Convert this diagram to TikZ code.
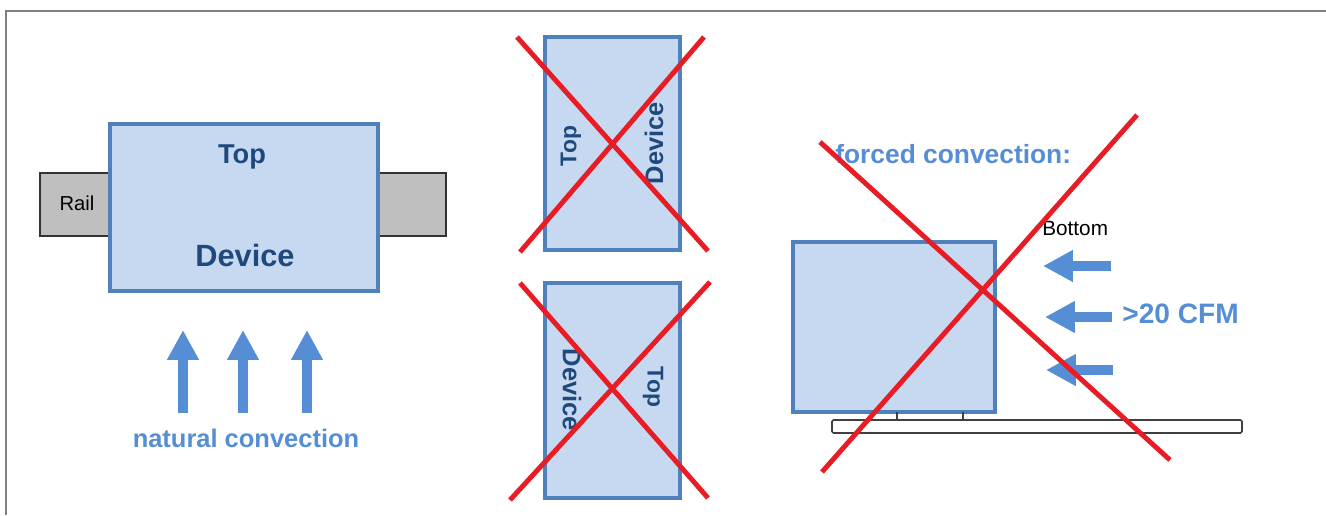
\documentclass[tikz,border=0pt]{standalone}
\usepackage{fontspec}
\setmainfont{Liberation Sans}
\usetikzlibrary{arrows.meta,fit}
\definecolor{devfill}{RGB}{198,217,241}
\definecolor{devline}{RGB}{79,129,189}
\definecolor{darktext}{RGB}{31,73,125}
\definecolor{arrowblue}{RGB}{85,142,213}
\definecolor{railgray}{RGB}{191,191,191}
\definecolor{framegray}{RGB}{128,128,128}
\definecolor{crossred}{RGB}{232,28,36}
\tikzset{
  devbox/.style={draw=devline,fill=devfill,line width=2.3pt,inner sep=0pt},
  smallbox/.style={draw=devline,fill=devfill,line width=1.8pt,inner sep=0pt},
  railbox/.style={draw=black!80,fill=railgray,line width=0.9pt,inner sep=0pt},
  platebox/.style={draw=black!75,fill=white,line width=0.9pt,inner sep=0pt,rounded corners=0.8pt},
  cross/.style={draw=crossred,line width=2.8pt},
  flow/.style={draw=arrowblue,line width=5.8pt,-{Triangle[width=17pt,length=17pt]}},
  devtxt/.style={text=darktext,font=\bfseries\fontsize{#1}{#1}\selectfont,inner sep=0pt},
  bluetxt/.style={text=arrowblue,font=\bfseries\fontsize{#1}{#1}\selectfont,inner sep=0pt},
  plaintxt/.style={text=black,font=\fontsize{#1}{#1}\selectfont,inner sep=0pt}
}
\begin{document}
\begin{tikzpicture}[x=0.02cm,y=-0.02cm]
\useasboundingbox (0,0) rectangle (1326,515);
% frame
\draw[framegray,line width=1.2pt] (6,515) -- (6,11) -- (1326,11);

% ---------- left: correct mounting ----------
\node[railbox,fit={(40,173) (446,236)}] (rail) {};
\node[devbox,fit={(110,124) (378,291)}] (dev) {};
\node[plaintxt=11.5pt,anchor=base] (railtxt) at (77,210) {Rail};
\node[devtxt=15.5pt,anchor=base] (top1) at (242,163) {Top};
\node[devtxt=17.5pt,anchor=base] (dev1) at (245,266) {Device};
\coordinate (ua1) at (183,413); \coordinate (ub1) at (183,330);
\coordinate (ua2) at (243,413); \coordinate (ub2) at (243,330);
\coordinate (ua3) at (307,413); \coordinate (ub3) at (307,330);
\draw[flow] (ua1) -- (ub1);
\draw[flow] (ua2) -- (ub2);
\draw[flow] (ua3) -- (ub3);
\node[bluetxt=14.5pt,anchor=base] (nat) at (246,447) {natural convection};

% ---------- middle: wrong orientations ----------
\node[smallbox,fit={(545,37) (680,250)}] (vA) {};
\node[devtxt=13pt,rotate=90] (topA) at (571,146) {Top};
\node[devtxt=14.5pt,rotate=90] (devA) at (654,143) {Device};
\coordinate (xa1) at (517,37);  \coordinate (xa2) at (708,251);
\coordinate (xa3) at (520,252); \coordinate (xa4) at (704,37);
\draw[cross] (xa1) -- (xa2);
\draw[cross] (xa3) -- (xa4);

\node[smallbox,fit={(545,283) (680,498)}] (vB) {};
\node[devtxt=14.5pt,rotate=-90] (devB) at (572,390) {Device};
\node[devtxt=13pt,rotate=-90] (topB) at (653,387) {Top};
\coordinate (xb1) at (520,283); \coordinate (xb2) at (708,498);
\coordinate (xb3) at (510,500); \coordinate (xb4) at (710,282);
\draw[cross] (xb1) -- (xb2);
\draw[cross] (xb3) -- (xb4);

% ---------- right: forced convection ----------
\node[bluetxt=15pt,anchor=base west] (forced) at (835,163) {forced convection:};
\node[plaintxt=11.8pt,anchor=base west] (bottom) at (1042,235) {Bottom};
\node[devbox,fit={(793,242) (995,412)}] (sq) {};
\node[platebox,fit={(832,420) (1242,433)}] (plate) {};
\coordinate (f1a) at (897,412); \coordinate (f1b) at (897,420);
\coordinate (f2a) at (963,412); \coordinate (f2b) at (963,420);
\draw[black!75,line width=0.9pt] (f1a) -- (f1b);
\draw[black!75,line width=0.9pt] (f2a) -- (f2b);
\coordinate (la1) at (1111,266); \coordinate (lb1) at (1043,266);
\coordinate (la2) at (1112,317); \coordinate (lb2) at (1045,317);
\coordinate (la3) at (1113,370); \coordinate (lb3) at (1046,370);
\draw[flow] (la1) -- (lb1);
\draw[flow] (la2) -- (lb2);
\draw[flow] (la3) -- (lb3);
\node[bluetxt=16pt,anchor=base west] (cfm) at (1122,323) {>20 CFM};
\coordinate (xc1) at (820,142);  \coordinate (xc2) at (1170,460);
\coordinate (xc3) at (822,472);  \coordinate (xc4) at (1137,115);
\draw[cross] (xc1) -- (xc2);
\draw[cross] (xc3) -- (xc4);
\end{tikzpicture}
\end{document}
